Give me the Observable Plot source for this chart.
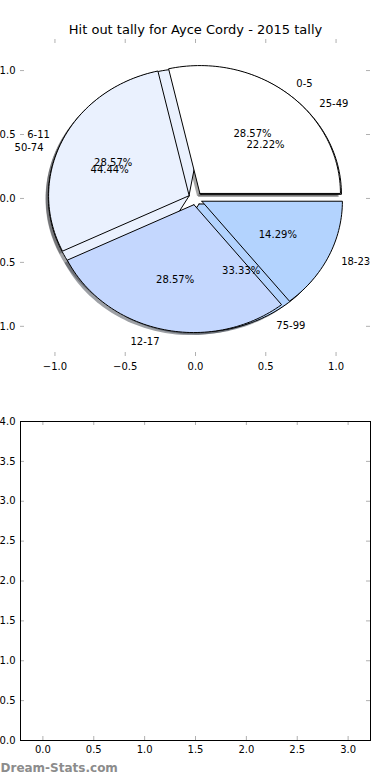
<!DOCTYPE html>
<html><head><meta charset="utf-8">
<script src="https://cdn.jsdelivr.net/npm/d3@7"></script>
<script src="https://cdn.jsdelivr.net/npm/@observablehq/plot@0.6"></script>
<style>body{margin:0;background:white;} #chart svg{display:block;}</style>
</head><body><div id="chart"></div>
<script>
const title = "Hit out tally for Ayce Cordy - 2015 tally";
const watermark = "Dream-Stats.com";
const labelsA = ["0-5", "6-11", "12-17", "18-23"];
const valuesA = [2, 2, 2, 1];
const labelsB = ["25-49", "50-74", "75-99"];
const valuesB = [2, 4, 3];
const colorsA = ["#ffffff", "#eaf1fe", "#c4d7fe", "#b3d3fe"];
const colorsB = ["#ffffff", "#eaf1fe", "#b3d3fe"];
const pieXTicks = [-1, -0.5, 0, 0.5, 1];
const pieYTicks = [-1, -0.5, 0, 0.5, 1];
const emptyXTicks = [0, 0.5, 1, 1.5, 2, 2.5, 3];
const emptyYTicks = [0, 0.5, 1, 1.5, 2, 2.5, 3, 3.5, 4];

const explode = 0.05, shadowOffset = 0.02;
const fmt = d => (d < 0 ? "\u2212" : "") + Math.abs(d).toFixed(1);
const shade = c => { const r = d3.rgb(c); return d3.rgb(r.r * 0.3, r.g * 0.3, r.b * 0.3).formatHex(); };

function wedges(labels, values, colors) {
  const total = d3.sum(values);
  let a0 = 0;
  return values.map((v, i) => {
    const a1 = a0 + v / total * 2 * Math.PI;
    const mid = (a0 + a1) / 2;
    const cx = explode * Math.cos(mid), cy = explode * Math.sin(mid);
    const n = Math.max(2, Math.ceil((a1 - a0) / (Math.PI / 120)));
    const pts = [{x: cx, y: cy}];
    for (let k = 0; k <= n; k++) {
      const a = a0 + (a1 - a0) * k / n;
      pts.push({x: cx + Math.cos(a), y: cy + Math.sin(a)});
    }
    pts.push({x: cx, y: cy});
    const w = {
      label: labels[i], pct: (v / total * 100).toFixed(2) + "%", color: colors[i], pts,
      lx: cx + 1.1 * Math.cos(mid), ly: cy + 1.1 * Math.sin(mid),
      px: cx + 0.6 * Math.cos(mid), py: cy + 0.6 * Math.sin(mid)
    };
    a0 = a1;
    return w;
  });
}

const A = wedges(labelsA, valuesA, colorsA);
const B = wedges(labelsB, valuesB, colorsB);
const allW = [...B, ...A];

const W1 = 350, H1 = 317;
const tickColor = "#b0b0b0";
const pieMarks = [];
for (const w of allW) pieMarks.push(Plot.line(w.pts, {x: d => d.x - shadowOffset, y: d => d.y - shadowOffset, fill: shade(w.color), fillOpacity: 0.5, stroke: "none"}));
for (const w of allW) pieMarks.push(Plot.line(w.pts, {x: "x", y: "y", fill: w.color, stroke: "black", strokeWidth: 1}));

const piePlot = Plot.plot({
  width: 390, height: 390,
  marginLeft: 20, marginRight: 20, marginTop: 39, marginBottom: 34,
  x: {domain: [-1.245, 1.245]},
  y: {domain: [-1.236, 1.243]},
  style: {fontFamily: "DejaVu Sans", fontSize: "10px", color: "black", background: "white", overflow: "visible"},
  marks: [
    ...pieMarks,
    Plot.text(allW.filter(w => w.lx > 0), {x: "lx", y: "ly", text: "label", textAnchor: "start", fontSize: 10}),
    Plot.text(allW.filter(w => w.lx <= 0), {x: "lx", y: "ly", text: "label", textAnchor: "end", fontSize: 10}),
    Plot.text(allW, {x: "px", y: "py", text: "pct", fontSize: 10}),
    Plot.ruleX(pieXTicks, {stroke: tickColor, insetBottom: H1 - 4}),
    Plot.ruleX(pieXTicks, {stroke: tickColor, insetTop: H1 - 4}),
    Plot.ruleY(pieYTicks, {stroke: tickColor, insetRight: W1 - 4}),
    Plot.ruleY(pieYTicks, {stroke: tickColor, insetLeft: W1 - 4}),
    Plot.axisX({ticks: pieXTicks, tickSize: 0, tickPadding: 6, tickFormat: fmt, label: null}),
    Plot.axisY({ticks: pieYTicks, tickSize: 0, tickPadding: 5, tickFormat: fmt, label: null}),
    Plot.text([title], {frameAnchor: "top", dy: -10, fontSize: 13, lineAnchor: "middle"})
  ]
});

const W2 = 350, H2 = 319;
const emptyPlot = Plot.plot({
  width: 390, height: 390,
  marginLeft: 20, marginRight: 20, marginTop: 31, marginBottom: 40,
  x: {domain: [-0.22, 3.22]},
  y: {domain: [0, 4]},
  style: {fontFamily: "DejaVu Sans", fontSize: "10px", color: "black", background: "white", overflow: "visible"},
  marks: [
    Plot.ruleX(emptyXTicks, {stroke: tickColor, insetBottom: H2 - 4}),
    Plot.ruleX(emptyXTicks, {stroke: tickColor, insetTop: H2 - 4}),
    Plot.ruleY(emptyYTicks, {stroke: tickColor, insetRight: W2 - 4}),
    Plot.ruleY(emptyYTicks, {stroke: tickColor, insetLeft: W2 - 4}),
    Plot.frame({stroke: "black", strokeWidth: 1}),
    Plot.axisX({ticks: emptyXTicks, tickSize: 0, tickPadding: 5, tickFormat: fmt, label: null}),
    Plot.axisY({ticks: emptyYTicks, tickSize: 0, tickPadding: 5, tickFormat: fmt, label: null}),
    Plot.text([watermark], {frameAnchor: "bottom-left", dx: -20, dy: 31, textAnchor: "start", fontSize: 12, fill: "#8c8c8c", fontWeight: 600})
  ]
});

document.getElementById("chart").append(piePlot, emptyPlot);
</script>
</body></html>
